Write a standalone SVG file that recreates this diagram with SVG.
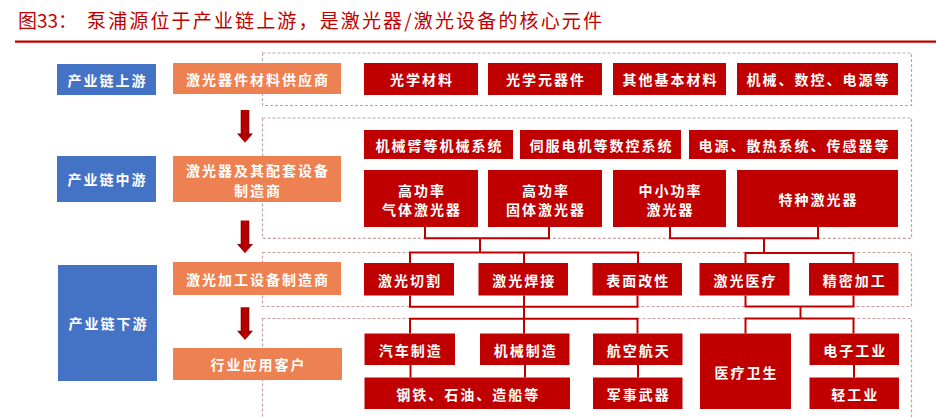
<svg xmlns="http://www.w3.org/2000/svg" width="936" height="417" viewBox="0 0 936 417">
<style>
.blue{fill:#4472C4}
.orange{fill:#EE8152}
.red{fill:#C00000}
.t{font-family:"Noto Sans CJK SC","Noto Sans",sans-serif;font-weight:bold;font-size:14px;fill:#fff;text-anchor:middle;dominant-baseline:central;letter-spacing:2px}
.dash{fill:none;stroke:#C9A0A0;stroke-width:1.2;stroke-dasharray:3 2}
.conn{fill:none;stroke:#C00000;stroke-width:2}
.title{font-family:"Noto Sans CJK SC","Noto Sans",sans-serif;font-size:19px;fill:#C00000}
</style>
<defs>
<linearGradient id="ag" x1="0" y1="0" x2="1" y2="0">
<stop offset="0" stop-color="#7E0000"/>
<stop offset="0.5" stop-color="#C00000"/>
<stop offset="1" stop-color="#7E0000"/>
</linearGradient>
<path id="arrow" d="M-4.3,0 H4.3 V23.5 H8 L0,32.7 L-8,23.5 H-4.3 Z" fill="url(#ag)"/>
</defs>
<rect width="936" height="417" fill="#fff"/>
<g id="title">
<text class="title" x="18" y="28">图33：</text>
<text class="title" x="87" y="28" textLength="515" lengthAdjust="spacing">泵浦源位于产业链上游，是激光器/激光设备的核心元件</text>
<line x1="15" y1="41.7" x2="936" y2="41.7" stroke="#C00000" stroke-width="2.2"/>
</g>
<g id="frames">
<rect class="dash" x="262.5" y="53" width="649" height="52.5"/>
<rect class="dash" x="262.5" y="118" width="649" height="120.3"/>
<rect class="dash" x="262.5" y="252.5" width="649" height="54"/>
<rect class="dash" x="262.5" y="318.5" width="649" height="120"/>
</g>
<g id="stage-up"><rect class="blue" x="57" y="64" width="99" height="31"/><text class="t" x="107.5" y="79.5">产业链上游</text></g>
<g id="stage-mid"><rect class="blue" x="57" y="156" width="99" height="46"/><text class="t" x="107.5" y="179">产业链中游</text></g>
<g id="stage-down"><rect class="blue" x="58" y="265" width="99" height="116"/><text class="t" x="108.5" y="323">产业链下游</text></g>
<g id="sup"><rect class="orange" x="173" y="63" width="168" height="31"/><text class="t" x="258" y="78.5">激光器件材料供应商</text></g>
<g id="maker"><rect class="orange" x="173" y="156" width="168" height="46"/><text class="t" x="258" y="170">激光器及其配套设备</text><text class="t" x="258" y="190">制造商</text></g>
<g id="equip"><rect class="orange" x="173" y="262" width="168" height="33"/><text class="t" x="258" y="278.5">激光加工设备制造商</text></g>
<g id="client"><rect class="orange" x="173" y="348" width="169" height="32"/><text class="t" x="258.5" y="364">行业应用客户</text></g>
<g id="arrows">
<use href="#arrow" x="245" y="110"/>
<use href="#arrow" x="245" y="220.6"/>
<use href="#arrow" x="245" y="307.3"/>
</g>
<g id="r1a"><rect class="red" x="364" y="63" width="114" height="32"/><text class="t" x="422" y="79">光学材料</text></g>
<g id="r1b"><rect class="red" x="488" y="63" width="114" height="32"/><text class="t" x="546" y="79">光学元器件</text></g>
<g id="r1c"><rect class="red" x="613" y="63" width="113" height="32"/><text class="t" x="670.5" y="79">其他基本材料</text></g>
<g id="r1d"><rect class="red" x="737" y="63" width="161" height="32"/><text class="t" x="818.5" y="79">机械、数控、电源等</text></g>
<g id="r2a"><rect class="red" x="364" y="130" width="149" height="29"/><text class="t" x="439.5" y="144.5">机械臂等机械系统</text></g>
<g id="r2b"><rect class="red" x="520" y="130" width="161" height="29"/><text class="t" x="601.5" y="144.5">伺服电机等数控系统</text></g>
<g id="r2c"><rect class="red" x="689" y="130" width="209" height="29"/><text class="t" x="794.5" y="144.5">电源、散热系统、传感器等</text></g>
<g id="r3a"><rect class="red" x="364" y="170" width="114" height="57"/><text class="t" x="422" y="189.5">高功率</text><text class="t" x="422" y="209">气体激光器</text></g>
<g id="r3b"><rect class="red" x="488" y="170" width="114" height="57"/><text class="t" x="546" y="189.5">高功率</text><text class="t" x="546" y="209">固体激光器</text></g>
<g id="r3c"><rect class="red" x="613" y="170" width="113" height="57"/><text class="t" x="670.5" y="189.5">中小功率</text><text class="t" x="670.5" y="209">激光器</text></g>
<g id="r3d"><rect class="red" x="737" y="170" width="161" height="57"/><text class="t" x="818.5" y="199">特种激光器</text></g>
<g id="r4a"><rect class="red" x="364" y="263" width="90" height="32.5"/><text class="t" x="410" y="279.5">激光切割</text></g>
<g id="r4b"><rect class="red" x="478.5" y="263" width="89.5" height="32.5"/><text class="t" x="524.25" y="279.5">激光焊接</text></g>
<g id="r4c"><rect class="red" x="592.5" y="263" width="89.5" height="32.5"/><text class="t" x="638.25" y="279.5">表面改性</text></g>
<g id="r4d"><rect class="red" x="699.5" y="263" width="90" height="32.5"/><text class="t" x="745.5" y="279.5">激光医疗</text></g>
<g id="r4e"><rect class="red" x="809" y="263" width="89.5" height="32.5"/><text class="t" x="854.75" y="279.5">精密加工</text></g>
<g id="r5a"><rect class="red" x="364.5" y="333.5" width="90.5" height="31.5"/><text class="t" x="410.75" y="349.5">汽车制造</text></g>
<g id="r5b"><rect class="red" x="480" y="333.5" width="89.5" height="31.5"/><text class="t" x="525.75" y="349.5">机械制造</text></g>
<g id="r5c"><rect class="red" x="593" y="333.5" width="89.5" height="31.5"/><text class="t" x="638.75" y="349.5">航空航天</text></g>
<g id="r5d"><rect class="red" x="700" y="333.5" width="91" height="75.5"/><text class="t" x="746.5" y="371.5">医疗卫生</text></g>
<g id="r5e"><rect class="red" x="809.5" y="333.5" width="89.5" height="31.5"/><text class="t" x="855.25" y="349.5">电子工业</text></g>
<g id="r6a"><rect class="red" x="364.5" y="377.5" width="205.5" height="31.5"/><text class="t" x="468.25" y="393.5">钢铁、石油、造船等</text></g>
<g id="r6b"><rect class="red" x="593" y="377.5" width="89.5" height="31.5"/><text class="t" x="638.75" y="393.5">军事武器</text></g>
<g id="r6c"><rect class="red" x="809.5" y="377.5" width="89.5" height="31.5"/><text class="t" x="855.25" y="393.5">轻工业</text></g>
<g id="connectors">
<path class="conn" d="M425,227 V238.3 H549 V227 M480,238.3 V252.5 M410,263 V252.5 H638 V263 M524,252.5 V263"/>
<path class="conn" d="M670,227 V238.3 H818 V227 M764,238.3 V253 M745.5,263 V253 H853.5 V263"/>
<path class="conn" d="M410,295.5 V306.8 H637.5 V295.5 M524,295.5 V333.5 M410,333.5 V318.8 H637.5 V333.5"/>
<path class="conn" d="M745.5,295.5 V306.5 H853.5 V295.5 M800.5,306.5 V318.5 M745.5,333.5 V318.5 H853.5 V333.5"/>
<path class="conn" d="M410.5,365 V377.5 M525,365 V377.5 M638,365 V377.5 M854,365 V377.5"/>
</g>
</svg>
